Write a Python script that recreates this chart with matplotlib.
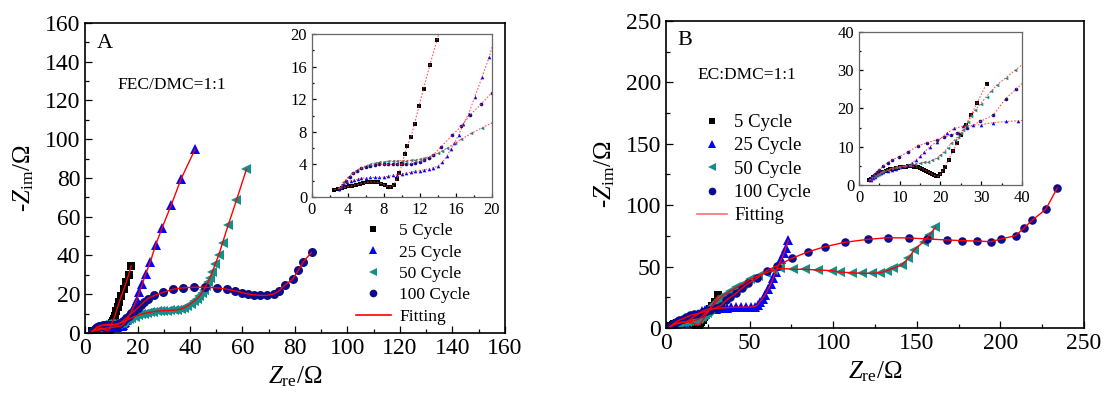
import matplotlib
matplotlib.use("Agg")
import matplotlib.pyplot as plt
from matplotlib.ticker import MultipleLocator
from matplotlib.lines import Line2D

plt.rcParams["font.family"] = ["Liberation Serif", "DejaVu Serif"]
plt.rcParams["mathtext.fontset"] = "custom"
plt.rcParams["mathtext.rm"] = "Liberation Serif"
plt.rcParams["mathtext.it"] = "Liberation Serif:italic"

# Nyquist data, FEC/DMC electrolyte (Z_re, -Z_im in ohm)
a5_x = [2.5, 2.9, 3.3, 3.7, 4.1, 4.5, 4.9, 5.3, 5.7, 6.1, 6.5, 6.9, 7.3, 7.7, 8.1, 8.5, 8.8, 9.1, 9.4,
        9.7, 10.0, 10.3, 10.6, 11.0, 11.4, 11.9, 12.4, 13.1, 13.9, 14.8, 15.7, 16.6, 17.6]
a5_y = [0.9, 1.0, 1.1, 1.2, 1.3, 1.4, 1.5, 1.6, 1.7, 1.8, 1.85, 1.85, 1.8, 1.65, 1.45, 1.25, 1.2, 1.5, 2.2,
        3.0, 4.0, 5.3, 6.3, 7.4, 9.0, 11.2, 13.3, 16.2, 19.3, 22.7, 26.3, 30.0, 34.6]

a25_x = [3.0, 3.3, 3.6, 3.9, 4.3, 4.7, 5.1, 5.5, 6.0, 6.5, 7.0, 7.5, 8.0, 8.5, 9.0, 9.5, 10.0, 10.5, 11.0,
         11.5, 12.0, 12.5, 13.0, 13.5, 14.0, 14.5, 15.0, 15.4, 15.8, 16.3, 16.8, 17.4, 18.1, 18.9, 19.7,
         20.7, 21.9, 23.1, 24.9, 26.9, 29.4, 32.8, 36.6, 41.9]
a25_y = [1.0, 1.3, 1.6, 1.8, 2.0, 2.1, 2.2, 2.3, 2.35, 2.4, 2.4, 2.4, 2.45, 2.55, 2.65, 2.75, 2.85, 2.95, 3.05,
         3.15, 3.25, 3.35, 3.45, 3.6, 3.8, 4.3, 5.0, 5.9, 6.6, 7.6, 8.9, 10.2, 12.3, 14.7, 17.2,
         21.0, 25.5, 30.5, 36.8, 45.4, 54.4, 65.9, 79.5, 94.8]

a50_x = [3.0, 3.5, 4.0, 4.5, 5.0, 5.5, 6.0, 6.5, 7.0, 7.5, 8.0, 8.5, 9.0, 9.5, 10.0, 10.5, 11.0, 11.5, 12.0,
         12.5, 13.0, 13.5, 14.0, 14.5, 15.0, 15.9, 16.6, 17.7, 18.9, 20.0, 21.2, 22.4, 23.6, 24.8, 26.0,
         27.3, 28.6, 29.9, 31.2, 32.5, 33.8, 35.1, 36.4, 37.7, 39.0, 40.3, 41.5, 42.7, 43.6, 44.4, 45.2,
         46.0, 46.8, 47.6, 48.5, 49.6, 50.9, 52.4, 54.5, 57.7, 61.5]
a50_y = [1.1, 1.8, 2.4, 2.9, 3.3, 3.6, 3.85, 4.0, 4.15, 4.25, 4.35, 4.4, 4.45, 4.45, 4.45, 4.45, 4.5, 4.55, 4.65,
         4.8, 4.95, 5.15, 5.4, 5.7, 6.0, 6.6, 7.1, 7.8, 8.5, 9.1, 9.6, 10.0, 10.4, 10.7, 11.0,
         11.2, 11.4, 11.5, 11.6, 11.7, 11.8, 11.9, 12.3, 13.0, 14.0, 15.2, 16.4, 17.6, 19.0, 20.5, 22.2,
         24.2, 26.3, 28.5, 31.5, 35.5, 40.0, 46.5, 55.5, 68.5, 84.5]

a100_x = [3.0, 3.4, 3.8, 4.2, 4.6, 5.0, 5.5, 6.0, 6.5, 7.0, 7.5, 8.0, 8.5, 9.0, 9.5, 10.0, 10.5, 11.0, 11.5,
          12.0, 12.5, 13.0, 13.5, 14.3, 15.6, 16.6, 17.6, 18.8, 20.0, 21.3, 22.6, 24.0, 26.4, 29.8, 33.7,
          37.2, 41.5, 45.7, 50.4, 54.0, 57.1, 59.9, 62.2, 64.4, 66.7, 69.2, 72.0, 74.0, 76.2, 79.1, 81.3,
          83.2, 86.3]
a100_y = [1.0, 1.5, 2.0, 2.5, 2.9, 3.2, 3.5, 3.7, 3.85, 3.95, 4.0, 4.0, 4.0, 4.0, 4.0, 4.0, 4.05, 4.1, 4.2,
          4.35, 4.55, 4.8, 5.2, 6.1, 7.6, 8.7, 10.1, 11.4, 12.8, 14.5, 16.2, 17.8, 19.4, 21.0, 22.6,
          23.3, 23.6, 23.6, 23.3, 22.6, 21.7, 20.8, 20.1, 19.7, 19.4, 19.4, 20.2, 21.8, 24.8, 27.7, 32.5,
          36.8, 41.6]

# Nyquist data, EC:DMC electrolyte
b5_x = [2.5, 3.0, 3.5, 4.0, 4.5, 5.0, 5.5, 6.0, 6.5, 7.0, 7.5, 8.0, 8.5, 9.0, 9.5, 10.0, 10.5, 11.0, 11.5,
        12.0, 12.5, 13.0, 13.5, 14.0, 14.5, 15.0, 15.5, 16.0, 16.5, 17.0, 17.5, 18.0, 18.5, 19.0, 19.5,
        20.0, 20.5, 21.0, 22.0, 23.0, 24.0, 25.0, 26.2, 27.5, 29.0, 31.3]
b5_y = [1.2, 1.6, 2.0, 2.4, 2.7, 3.0, 3.3, 3.5, 3.7, 3.9, 4.1, 4.2, 4.3, 4.4, 4.5, 4.6, 4.7, 4.75, 4.8,
        4.85, 4.85, 4.85, 4.8, 4.7, 4.6, 4.45, 4.25, 4.0, 3.75, 3.45, 3.1, 2.8, 2.5, 2.3, 2.3,
        2.8, 3.7, 4.6, 6.6, 8.8, 10.9, 13.0, 15.6, 18.3, 21.5, 26.5]

b25_x = [3.0, 3.5, 4.0, 4.5, 5.0, 5.5, 6.0, 7.0, 8.0, 9.0, 10.0, 11.0, 12.0, 13.0, 14.0, 15.0, 16.0, 17.4,
         19.1, 21.5, 23.4, 25.6, 28.0, 30.0, 33.0, 36.2, 39.0, 42.0, 45.0, 48.0, 51.0, 53.2, 55.0, 56.2,
         57.8, 59.2, 61.0, 62.6, 64.2, 65.6, 67.0, 69.0, 70.6, 71.6, 73.2]
b25_y = [1.2, 1.7, 2.1, 2.5, 2.8, 3.1, 3.3, 3.7, 4.0, 4.3, 4.6, 4.9, 5.3, 5.8, 6.6, 7.5, 8.6, 10.0,
         11.3, 13.5, 14.8, 15.4, 15.6, 15.8, 16.3, 16.6, 16.8, 17.0, 17.0, 17.0, 17.1, 17.4, 19.0, 21.4,
         24.0, 26.9, 31.5, 35.5, 41.0, 46.0, 50.5, 56.0, 61.0, 65.5, 71.5]

b50_x = [2.5, 3.0, 3.5, 4.0, 4.5, 5.0, 5.5, 6.0, 7.0, 8.0, 9.0, 9.7, 11.0, 12.5, 13.8, 15.0, 16.0, 17.0,
         18.0, 19.1, 20.0, 20.9, 21.8, 22.7, 23.5, 24.2, 25.0, 25.6, 26.2, 26.7, 27.6, 28.5, 29.9, 31.3,
         32.5, 33.8, 36.0, 38.3, 42.0, 46.0, 50.0, 55.0, 60.0, 64.0, 68.2, 76.1, 83.1, 91.1, 99.1, 104.1,
         111.0, 117.0, 123.0, 128.0, 132.0, 136.0, 141.0, 145.0, 148.4, 154.0, 157.5, 161.1]
b50_y = [1.2, 1.6, 2.0, 2.4, 2.7, 3.0, 3.3, 3.6, 4.0, 4.4, 4.7, 4.8, 5.0, 5.2, 5.4, 5.7, 5.9, 6.1,
         6.5, 7.0, 7.8, 8.7, 9.8, 10.9, 11.8, 12.6, 13.5, 14.4, 15.4, 16.5, 18.0, 19.6, 21.3, 23.1,
         24.6, 26.1, 28.0, 30.0, 33.0, 36.0, 39.5, 42.5, 45.0, 47.0, 48.6, 47.8, 47.8, 47.2, 46.7, 45.5,
         45.0, 44.5, 44.5, 45.0, 46.7, 48.6, 51.3, 56.8, 63.5, 70.3, 75.5, 82.0]

b100_x = [2.5, 3.0, 3.5, 4.0, 4.5, 5.0, 6.0, 7.0, 8.0, 9.9, 12.1, 14.6, 16.8, 19.1, 20.9, 22.6, 24.1,
          26.4, 29.7, 33.0, 36.0, 38.5, 41.9, 45.3, 49.2, 54.3, 60.2, 66.2, 75.2, 85.1, 95.1, 107.0,
          120.8, 132.6, 145.5, 156.3, 167.9, 177.2, 186.2, 194.4, 200.4, 209.1, 214.3, 219.1, 227.1, 233.9]
b100_y = [1.2, 1.8, 2.4, 3.0, 3.5, 4.0, 5.0, 5.8, 6.5, 7.4, 8.7, 10.3, 11.1, 11.8, 12.5, 13.1, 13.5,
          14.8, 16.6, 18.3, 22.6, 25.0, 28.3, 32.3, 36.4, 40.4, 46.7, 50.5, 56.7, 62.1, 66.2, 69.8,
          72.2, 73.5, 73.3, 72.5, 71.7, 71.1, 70.8, 70.3, 72.5, 75.2, 81.7, 87.9, 96.6, 113.8]

labels = ["5 Cycle", "25 Cycle", "50 Cycle", "100 Cycle"]
markers = ["s", "^", "<", "o"]
colors = ["#000000", "#0000ff", "#13908a", "#0c0c8c"]
msizes = [5.5, 7, 7, 6.5]

series_a = [(a5_x, a5_y), (a25_x, a25_y), (a50_x, a50_y), (a100_x, a100_y)]
series_b = [(b5_x, b5_y), (b25_x, b25_y), (b50_x, b50_y), (b100_x, b100_y)]


def style_axes(ax, size, major, minor, lim, spine_color="k", lw=1.2, ticklen=5):
    ax.set_xlim(0, lim)
    ax.set_ylim(0, lim)
    ax.xaxis.set_major_locator(MultipleLocator(major))
    ax.xaxis.set_minor_locator(MultipleLocator(minor))
    ax.yaxis.set_major_locator(MultipleLocator(major))
    ax.yaxis.set_minor_locator(MultipleLocator(minor))
    ax.tick_params(which="both", direction="in", labelsize=size, width=0.9,
                   top=False, right=False)
    ax.tick_params(which="major", length=ticklen)
    ax.tick_params(which="minor", length=ticklen * 0.6)
    for sp in ax.spines.values():
        sp.set_color(spine_color)
        sp.set_linewidth(lw)


def draw_main(ax, series, scale):
    for (x, y), m, c, s in zip(series, markers, colors, msizes):
        ax.plot(x, y, ls="none", marker=m, color=c, ms=s * scale, mew=0, zorder=2)
    for x, y in series:
        ax.plot(x, y, color="#ff0000", lw=1.0, zorder=3)


def draw_inset(ax, series):
    for (x, y), m, c in zip(series, markers, colors):
        ax.plot(x, y, ls="none", marker=m, color=c, ms=2.6, mew=0, zorder=2)
        ax.plot(x, y, color="#ff3030", lw=0.8, ls=(0, (1.5, 1.5)), alpha=0.8, zorder=3)


fig = plt.figure(figsize=(11.04, 3.93), dpi=100)

# panel A
axA = fig.add_axes([0.0770, 0.1527, 0.3804, 0.7888])
draw_main(axA, series_a, 1.0)
style_axes(axA, 17, 20, 10, 160)
axA.set_xlabel("$Z_{\\rm re}$/Ω", fontsize=18, labelpad=4)
axA.set_ylabel("-$Z_{\\rm im}$/Ω", fontsize=18, labelpad=6)
axA.text(0.028, 0.935, "A", transform=axA.transAxes, fontsize=16, va="center")
axA.text(0.078, 0.80, "FEC/DMC=1:1", transform=axA.transAxes, fontsize=12.5, va="center")

handles = [Line2D([], [], ls="none", marker=m, color=c, ms=s * 0.85, mew=0)
           for m, c, s in zip(markers, colors, msizes)]
handles.append(Line2D([], [], color="#ff0000", lw=1.2))
axA.legend(handles, labels + ["Fitting"], loc="upper left", frameon=False,
           bbox_to_anchor=(356 / 1104, (393 - 223) / 393), bbox_transform=fig.transFigure,
           fontsize=12.5, borderpad=0, borderaxespad=0, handlelength=2.0, handletextpad=0.5,
           labelspacing=0.3, numpoints=1)

insA = fig.add_axes([0.2826, 0.4987, 0.1630, 0.4148])
draw_inset(insA, series_a)
style_axes(insA, 12, 4, 2, 20, spine_color="#666666", lw=0.9, ticklen=3)

# panel B
axB = fig.add_axes([0.6033, 0.1654, 0.3786, 0.7812])
draw_main(axB, series_b, 0.95)
style_axes(axB, 17, 50, 25, 250)
axB.set_xlabel("$Z_{\\rm re}$/Ω", fontsize=18, labelpad=4)
axB.set_ylabel("-$Z_{\\rm im}$/Ω", fontsize=18, labelpad=6)
axB.text(0.028, 0.935, "B", transform=axB.transAxes, fontsize=16, va="center")
axB.text(0.076, 0.825, "EC:DMC=1:1", transform=axB.transAxes, fontsize=12.5, va="center")

handles_b = [Line2D([], [], ls="none", marker=m, color=c, ms=s * 0.85, mew=0)
             for m, c, s in zip(markers, colors, msizes)]
handles_b.append(Line2D([], [], color="#f27474", lw=1.2))
axB.legend(handles_b, labels + ["Fitting"], loc="upper left", frameon=False,
           bbox_to_anchor=(697 / 1104, (393 - 114) / 393), bbox_transform=fig.transFigure,
           fontsize=13.5, borderpad=0, borderaxespad=0, handlelength=1.6, handletextpad=0.4,
           labelspacing=0.33, numpoints=1)

insB = fig.add_axes([0.7781, 0.5293, 0.1476, 0.3893])
draw_inset(insB, series_b)
style_axes(insB, 12, 10, 5, 40, spine_color="#666666", lw=0.9, ticklen=3)

fig.savefig("out.png", dpi=100)
